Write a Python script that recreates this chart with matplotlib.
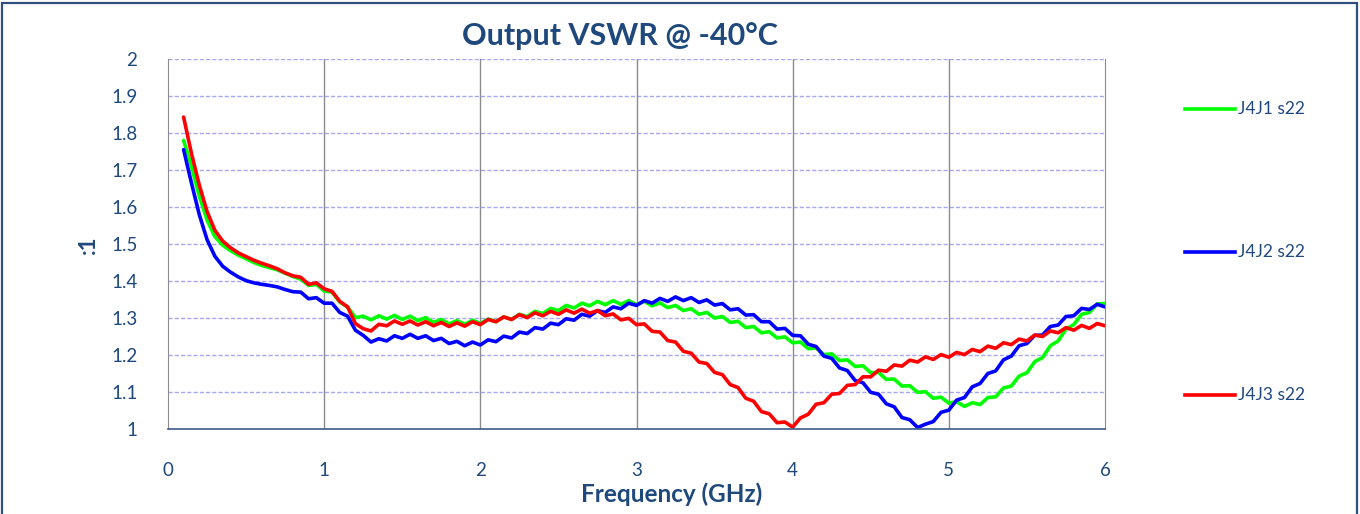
import numpy as np
import matplotlib
matplotlib.use('Agg')
import matplotlib.pyplot as plt
from matplotlib.lines import Line2D
from matplotlib.patches import Rectangle

plt.rcParams['font.family'] = ['Lato', 'DejaVu Sans']

# frequency points (GHz), 0.1 .. 6.0 in 50 MHz steps
freq = np.round(np.arange(0.10, 6.0001, 0.05), 2)

# VSWR
j4j1 = [1.780, 1.710, 1.630, 1.565, 1.520, 1.497, 1.482, 1.470, 1.460, 1.450,
        1.442, 1.436, 1.430, 1.421, 1.412, 1.405, 1.388, 1.391, 1.373, 1.370,
        1.343, 1.330, 1.301, 1.305, 1.295, 1.306, 1.297, 1.307, 1.296, 1.305,
        1.293, 1.301, 1.288, 1.296, 1.284, 1.293, 1.283, 1.294, 1.285, 1.297,
        1.290, 1.303, 1.296, 1.310, 1.304, 1.318, 1.312, 1.326, 1.320, 1.334,
        1.327, 1.340, 1.333, 1.345, 1.336, 1.347, 1.337, 1.347, 1.336, 1.345,
        1.333, 1.341, 1.328, 1.334, 1.320, 1.325, 1.310, 1.315, 1.300, 1.304,
        1.288, 1.291, 1.274, 1.277, 1.260, 1.263, 1.246, 1.249, 1.233, 1.235,
        1.217, 1.219, 1.201, 1.203, 1.185, 1.187, 1.169, 1.171, 1.152, 1.153,
        1.134, 1.135, 1.116, 1.117, 1.099, 1.101, 1.083, 1.086, 1.070, 1.074,
        1.061, 1.071, 1.066, 1.085, 1.087, 1.111, 1.116, 1.143, 1.152, 1.182,
        1.193, 1.225, 1.238, 1.270, 1.282, 1.310, 1.315, 1.338, 1.339]

j4j2 = [1.755, 1.665, 1.580, 1.512, 1.467, 1.440, 1.424, 1.411, 1.401, 1.395,
        1.391, 1.388, 1.384, 1.377, 1.371, 1.370, 1.352, 1.355, 1.340, 1.340,
        1.315, 1.305, 1.267, 1.253, 1.235, 1.244, 1.238, 1.252, 1.245, 1.256,
        1.245, 1.252, 1.239, 1.245, 1.231, 1.237, 1.225, 1.235, 1.227, 1.241,
        1.236, 1.251, 1.246, 1.262, 1.258, 1.274, 1.270, 1.286, 1.282, 1.298,
        1.294, 1.310, 1.305, 1.320, 1.315, 1.330, 1.325, 1.340, 1.334, 1.347,
        1.340, 1.353, 1.345, 1.357, 1.347, 1.355, 1.342, 1.349, 1.335, 1.339,
        1.322, 1.325, 1.308, 1.309, 1.290, 1.290, 1.270, 1.272, 1.253, 1.252,
        1.229, 1.223, 1.197, 1.191, 1.165, 1.158, 1.131, 1.125, 1.099, 1.094,
        1.068, 1.060, 1.031, 1.025, 1.004, 1.013, 1.020, 1.045, 1.051, 1.078,
        1.085, 1.114, 1.123, 1.150, 1.157, 1.187, 1.197, 1.225, 1.231, 1.253,
        1.254, 1.277, 1.281, 1.304, 1.306, 1.326, 1.323, 1.337, 1.330]

j4j3 = [1.843, 1.745, 1.660, 1.588, 1.537, 1.508, 1.490, 1.476, 1.466, 1.456,
        1.448, 1.441, 1.433, 1.422, 1.414, 1.410, 1.391, 1.395, 1.379, 1.372,
        1.345, 1.330, 1.285, 1.271, 1.265, 1.283, 1.279, 1.292, 1.283, 1.292,
        1.281, 1.290, 1.279, 1.288, 1.277, 1.287, 1.278, 1.290, 1.282, 1.296,
        1.290, 1.303, 1.296, 1.309, 1.301, 1.314, 1.306, 1.318, 1.310, 1.322,
        1.313, 1.324, 1.313, 1.320, 1.306, 1.311, 1.295, 1.299, 1.282, 1.284,
        1.264, 1.262, 1.239, 1.235, 1.210, 1.205, 1.181, 1.177, 1.153, 1.147,
        1.120, 1.112, 1.083, 1.075, 1.047, 1.041, 1.017, 1.019, 1.005, 1.030,
        1.040, 1.067, 1.071, 1.094, 1.096, 1.118, 1.120, 1.141, 1.141, 1.159,
        1.156, 1.173, 1.170, 1.186, 1.181, 1.195, 1.188, 1.201, 1.194, 1.207,
        1.201, 1.215, 1.209, 1.224, 1.218, 1.233, 1.228, 1.243, 1.238, 1.254,
        1.250, 1.265, 1.260, 1.274, 1.267, 1.280, 1.272, 1.285, 1.279]

labels = ['J4J1 s22', 'J4J2 s22', 'J4J3 s22']
colors = ['#00ff00', '#0000ff', '#ff0000']
txt = '#1f497d'

fig = plt.figure(figsize=(13.6, 5.14), dpi=100)
ax = fig.add_axes([168/1360, 85/514, (1105-168)/1360, (429-59)/514])

for series, c in zip([j4j1, j4j2, j4j3], colors):
    ax.plot(freq, series, color=c, lw=2.6, solid_joinstyle='round',
            solid_capstyle='round')

ax.set_xlim(0, 6)
ax.set_ylim(1, 2)
ax.set_xticks(range(7))
ax.set_yticks(np.round(np.arange(1, 2.01, 0.1), 1))
ax.set_yticklabels(['1', '1.1', '1.2', '1.3', '1.4', '1.5', '1.6', '1.7', '1.8', '1.9', '2'])
ax.tick_params(length=0, labelsize=13.5, labelcolor=txt)
ax.tick_params(axis='x', pad=24)
ax.tick_params(axis='y', pad=22)

for yv in np.arange(1.1, 2.01, 0.1):
    ax.axhline(yv, color='#a8a8f0', lw=1.0, ls=(0, (3, 1.5)), zorder=0)
for xv in range(1, 6):
    ax.axvline(xv, color='#8c8c8c', lw=1.0, zorder=0)

ax.spines['top'].set_visible(False)
ax.spines['left'].set_color('#8c8c8c')
ax.spines['right'].set_color('#8c8c8c')
ax.spines['bottom'].set_color('#3b5a8a')
ax.spines['bottom'].set_linewidth(1.2)

fig.text(620/1360, 1 - 36/514, 'Output VSWR @ -40°C', ha='center', va='center',
         fontsize=22, fontweight='bold', color=txt)
fig.text(672/1360, 1 - 494/514, 'Frequency (GHz)', ha='center', va='center',
         fontsize=17.5, fontweight='bold', color=txt)
fig.text(88/1360, 1 - 245/514, ':1', ha='center', va='center', rotation=90,
         fontsize=16, fontweight='bold', color=txt)

# legend, spread down the right side
for lab, c, ly in zip(labels, colors, [109, 252, 395]):
    yy = 1 - ly/514
    fig.add_artist(Line2D([1185/1360, 1235/1360], [yy, yy], color=c, lw=2.6,
                          transform=fig.transFigure))
    fig.text(1238/1360, yy, lab, ha='left', va='center', fontsize=12.5, color=txt)

# outer chart border
fig.add_artist(Rectangle((2/1360, -0.05), 1355/1360, 1.05 - 3/514,
                         transform=fig.transFigure, fill=False,
                         edgecolor='#2f4f7f', lw=1.6))

fig.savefig('out.png', dpi=100)
